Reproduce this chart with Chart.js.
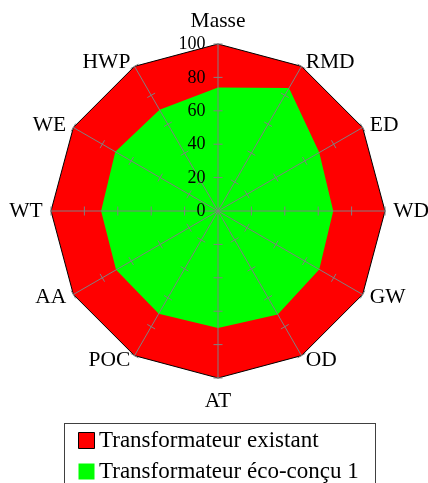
<!DOCTYPE html>
<html>
<head>
<meta charset="utf-8">
<script src="https://cdn.jsdelivr.net/npm/chart.js@4/dist/chart.umd.min.js"></script>
<style>
  html, body { margin: 0; padding: 0; background: #ffffff; }
  canvas { display: block; }
</style>
</head>
<body>
<canvas id="c" width="428" height="483"></canvas>
<script>
const categories = ['Masse', 'RMD', 'ED', 'WD', 'GW', 'OD', 'AT', 'POC', 'AA', 'WT', 'WE', 'HWP'];
const existant = [100, 100, 100, 100, 100, 100, 100, 100, 100, 100, 100, 100];
const ecoConcu1 = [74, 85, 70, 69, 70, 71.5, 70, 71, 70.5, 70, 71, 70];
const tickValues = [0, 20, 40, 60, 80, 100];
const seriesNames = ['Transformateur existant', 'Transformateur éco-conçu 1'];

const SERIF = "'Liberation Serif', 'Times New Roman', serif";
const GRAY = '#808080';

const decorPlugin = {
  id: 'decor',
  afterLayout(chart) {
    const lg = chart.legend;
    const h = lg.bottom - lg.top;
    lg.left = 77.5;
    lg.right = 376;
    lg.top = 421;
    lg.bottom = 421 + h;
  },
  afterDraw(chart) {
    const ctx = chart.ctx;
    const scale = chart.scales.r;
    ctx.save();
    // tick marks on every axis
    ctx.strokeStyle = GRAY;
    ctx.lineWidth = 1;
    categories.forEach((_, i) => {
      const a = scale.getIndexAngle(i);
      const px = Math.cos(a), py = Math.sin(a);
      scale.ticks.forEach(t => {
        if (t.value <= 0) return;
        const p = scale.getPointPositionForValue(i, t.value);
        ctx.beginPath();
        ctx.moveTo(p.x - px * 4.5, p.y - py * 4.5);
        ctx.lineTo(p.x + px * 4.5, p.y + py * 4.5);
        ctx.stroke();
      });
    });
    // tick labels along the first axis
    ctx.fillStyle = '#000';
    ctx.font = '18px ' + SERIF;
    ctx.textAlign = 'right';
    ctx.textBaseline = 'middle';
    scale.ticks.forEach(t => {
      const p = scale.getPointPositionForValue(0, t.value);
      ctx.fillText(String(t.value), p.x - 12.5, p.y + 0.5);
    });
    // point labels
    ctx.font = '21.5px ' + SERIF;
    chart.data.labels.forEach((lab, i) => {
      const a = scale.getIndexAngle(i);
      const s = Math.sin(a), c = Math.cos(a);
      const p = scale.getPointPositionForValue(i, scale.max);
      let x, y;
      if (Math.abs(s) < 0.01) {
        ctx.textAlign = 'center';
        x = p.x;
        y = p.y - c * 23 + 0.5;
      } else {
        ctx.textAlign = s > 0 ? 'left' : 'right';
        x = p.x + s * 8.3;
        y = p.y - c * 5 + 0.5;
      }
      ctx.fillText(lab, x, y);
    });
    // legend frame
    const lg = chart.legend;
    ctx.strokeStyle = '#404040';
    ctx.lineWidth = 1;
    ctx.strokeRect(lg.left - 13, lg.top + 2.5, lg.right - lg.left - 0.5 + 13, 80);
    ctx.restore();
  }
};

new Chart(document.getElementById('c'), {
  type: 'radar',
  data: {
    labels: categories,
    datasets: [
      {
        label: seriesNames[0],
        data: existant,
        order: 2,
        fill: true,
        backgroundColor: '#ff0000',
        borderColor: '#000000',
        borderWidth: 1,
        pointRadius: 0,
        pointHoverRadius: 0,
        pointBackgroundColor: '#ff0000',
        pointBorderColor: '#000000',
        pointBorderWidth: 1
      },
      {
        label: seriesNames[1],
        data: ecoConcu1,
        order: 1,
        fill: true,
        backgroundColor: '#00ff00',
        borderColor: '#00ff00',
        borderWidth: 0,
        pointRadius: 0,
        pointHoverRadius: 0,
        pointBackgroundColor: '#00ff00',
        pointBorderColor: '#00ff00',
        pointBorderWidth: 0
      }
    ]
  },
  options: {
    responsive: false,
    animation: false,
    devicePixelRatio: 1,
    layout: { padding: { left: 8, right: 0, top: 44, bottom: 33 } },
    elements: { line: { tension: 0 } },
    scales: {
      r: {
        min: 0,
        max: 100,
        startAngle: 0,
        grid: { display: false, z: 1 },
        angleLines: { display: true, color: GRAY, lineWidth: 1 },
        pointLabels: { display: false },
        ticks: { display: false, stepSize: 20, z: 1 }
      }
    },
    plugins: {
      tooltip: { enabled: false },
      legend: {
        display: true,
        position: 'bottom',
        align: 'start',
        labels: {
          usePointStyle: true,
          pointStyle: 'rect',
          boxWidth: 2,
          boxHeight: 16,
          padding: 8,
          color: '#000',
          font: { family: SERIF, size: 23 },
          sort: (a, b) => a.datasetIndex - b.datasetIndex
        }
      }
    }
  },
  plugins: [decorPlugin]
});
</script>
</body>
</html>
